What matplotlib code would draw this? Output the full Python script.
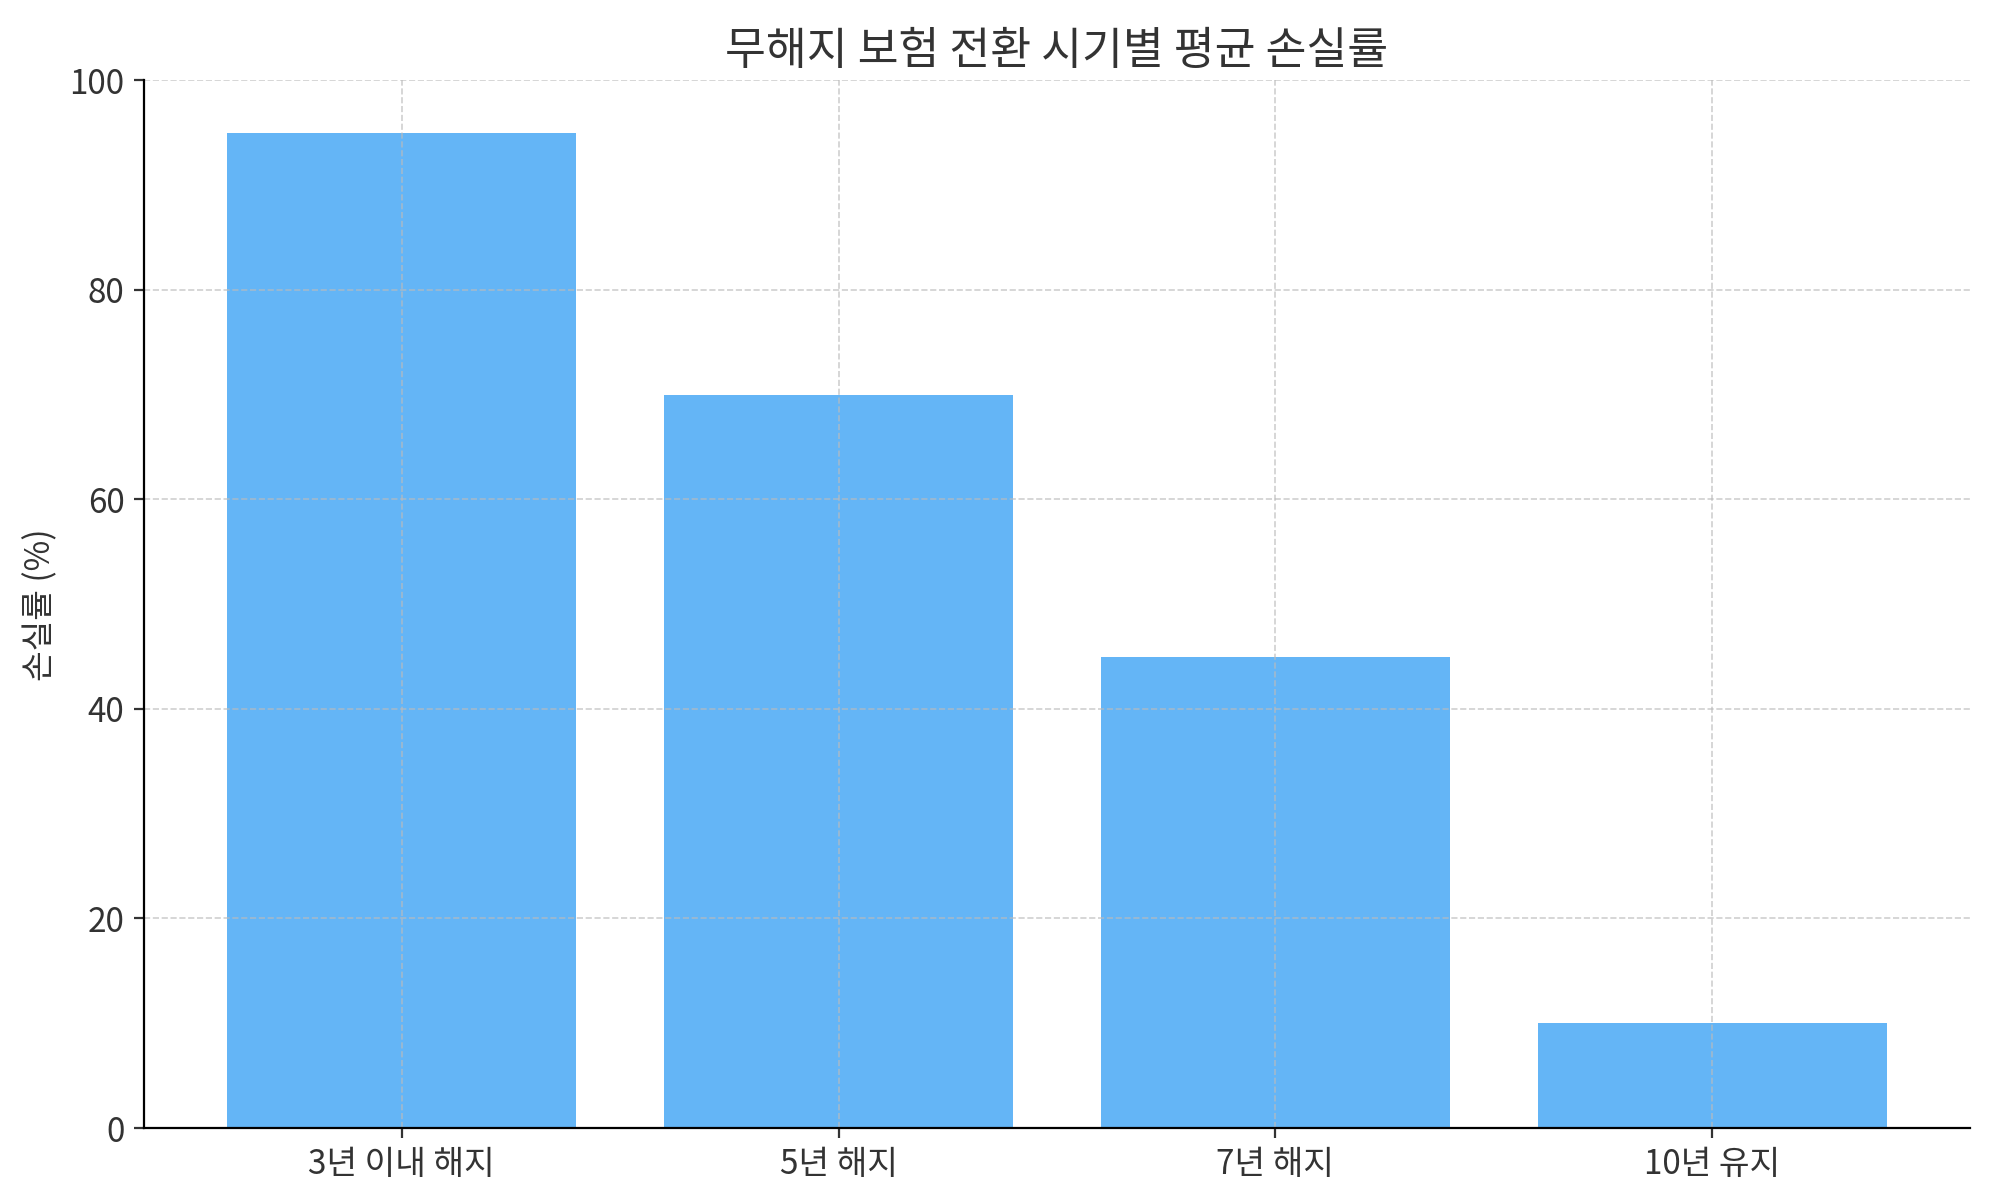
import matplotlib
matplotlib.use("Agg")
import matplotlib.pyplot as plt

plt.rcParams['font.family'] = ['Noto Sans CJK KR', 'DejaVu Sans']

categories = ["3년 이내 해지", "5년 해지", "7년 해지", "10년 유지"]
loss_rates = [95, 70, 45, 10]

fig, ax = plt.subplots(figsize=(10, 6), dpi=200)
ax.bar(categories, loss_rates, color="#64B5F6", width=0.8)
ax.set_title("무해지 보험 전환 시기별 평균 손실률", fontsize=16, color="#333333")
ax.set_ylabel("손실률 (%)", fontsize=12, color="#333333")
ax.set_ylim(0, 100)
ax.grid(True, linestyle="--", alpha=0.7, color="#bbbbbb", linewidth=0.6)
for s in ["top", "right"]:
    ax.spines[s].set_visible(False)
ax.tick_params(labelsize=12, colors="#333333")
fig.subplots_adjust(left=0.072, right=0.985, top=0.933, bottom=0.06)
fig.savefig("out.png")
